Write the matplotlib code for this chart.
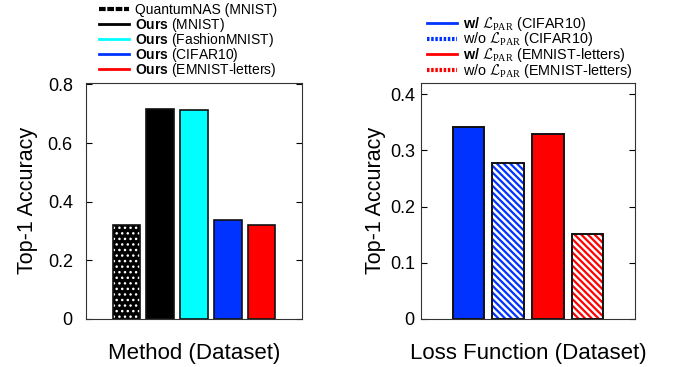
import numpy as np
import matplotlib
matplotlib.use('Agg')
import matplotlib.pyplot as plt
from matplotlib.lines import Line2D

plt.rcParams['font.family'] = ['Liberation Sans', 'DejaVu Sans']
plt.rcParams['mathtext.fontset'] = 'custom'
plt.rcParams['mathtext.rm'] = 'Liberation Serif'
plt.rcParams['mathtext.bf'] = 'Liberation Sans:bold'
plt.rcParams['mathtext.cal'] = 'cmsy10'

# --- data
left_labels = ['QuantumNAS (MNIST)', r'$\bf{Ours}$ (MNIST)', r'$\bf{Ours}$ (FashionMNIST)',
               r'$\bf{Ours}$ (CIFAR10)', r'$\bf{Ours}$ (EMNIST-letters)']
left_vals = [0.321, 0.716, 0.712, 0.338, 0.319]
left_colors = ['black', 'black', '#00ffff', '#0033ff', '#ff0000']

right_labels = [r'$\bf{w/}$ $\mathcal{L}_{\rm PAR}$ (CIFAR10)',
                r'w/o $\mathcal{L}_{\rm PAR}$ (CIFAR10)',
                r'$\bf{w/}$ $\mathcal{L}_{\rm PAR}$ (EMNIST-letters)',
                r'w/o $\mathcal{L}_{\rm PAR}$ (EMNIST-letters)']
right_vals = [0.341, 0.277, 0.329, 0.152]
right_colors = ['#0033ff', '#0033ff', '#ff0000', '#ff0000']
right_hatched = [False, True, False, True]

W, H = 677, 367
fig = plt.figure(figsize=(W / 100, H / 100), dpi=100)
ax1 = fig.add_axes([0.127, 0.131, 0.319, 0.643])
ax2 = fig.add_axes([0.622, 0.131, 0.316, 0.643])

def style_axis(ax, ylim, ticks, ticklabels, pad, lpad):
    ax.set_ylim(0, ylim)
    ax.set_yticks(ticks)
    ax.set_yticklabels(ticklabels, fontsize=13)
    ax.set_xticks([])
    ax.tick_params(axis='y', direction='in', length=4, width=0.8,
                   left=True, right=True, pad=pad)
    for s in ax.spines.values():
        s.set_linewidth(0.8)
        s.set_color('#333333')
    ax.set_ylabel('Top-1 Accuracy', fontsize=15.5, labelpad=lpad)

# --- left panel
plt.rcParams['hatch.linewidth'] = 1.0
x1 = np.arange(1, len(left_vals) + 1)
for i in range(len(left_vals)):
    if i == 0:
        # dotted pattern: black face, white dots
        ax1.bar(x1[i], left_vals[i], width=0.82, color='black', edgecolor='white',
                hatch='...', linewidth=0)
        ax1.bar(x1[i], left_vals[i], width=0.82, fill=False, edgecolor='#111111',
                linewidth=1.2)
    else:
        ax1.bar(x1[i], left_vals[i], width=0.82, color=left_colors[i],
                edgecolor='#111111', linewidth=1.2)
ax1.set_xlim(-0.2, 6.2)
style_axis(ax1, 0.805, [0, 0.2, 0.4, 0.6, 0.8], ['0', '0.2', '0.4', '0.6', '0.8'], 9.5, 7)
ax1.set_xlabel('Method (Dataset)', fontsize=16, labelpad=17)

# --- right panel
plt.rcParams['hatch.linewidth'] = 1.6
x2 = np.arange(1, len(right_vals) + 1)
for i in range(len(right_vals)):
    if right_hatched[i]:
        ax2.bar(x2[i], right_vals[i], width=0.8, color='white', edgecolor=right_colors[i],
                hatch='\\\\\\\\\\', linewidth=0)
        ax2.bar(x2[i], right_vals[i], width=0.8, fill=False, edgecolor='#111111',
                linewidth=1.4)
    else:
        ax2.bar(x2[i], right_vals[i], width=0.8, color=right_colors[i],
                edgecolor='#111111', linewidth=1.4)
ax2.set_xlim(-0.2, 5.2)
style_axis(ax2, 0.42, [0, 0.1, 0.2, 0.3, 0.4], ['0', '0.1', '0.2', '0.3', '0.4'], 4.5, 3)
ax2.set_xlabel('Loss Function (Dataset)', fontsize=16, labelpad=17)

# --- legends, laid out by hand (pixel rows from the top of the figure)
def add_legend(handles, labels, x0, rows, fs):
    for h, lab, y in zip(handles, labels, rows):
        yf = 1 - y / H
        h.set_data([x0 / W, (x0 + 30) / W], [yf, yf])
        h.set_transform(fig.transFigure)
        fig.add_artist(h)
        fig.text((x0 + 36) / W, 1 - (y + 5) / H, lab, fontsize=fs, va='baseline')

h1 = [Line2D([], [], color='black', lw=3, linestyle=(0, (1.6, 0.4)))]
h1 += [Line2D([], [], color=c, lw=2) for c in left_colors[1:]]
add_legend(h1, left_labels, 99, [9, 24, 39, 54, 69], 10)

h2 = []
for c, hatched in zip(right_colors, right_hatched):
    if hatched:
        h2.append(Line2D([], [], color=c, lw=3, linestyle=(0, (0.6, 0.4))))
    else:
        h2.append(Line2D([], [], color=c, lw=2))
add_legend(h2, right_labels, 427, [23, 38.5, 54, 69.5], 10.4)

fig.savefig('out.png', dpi=100)
